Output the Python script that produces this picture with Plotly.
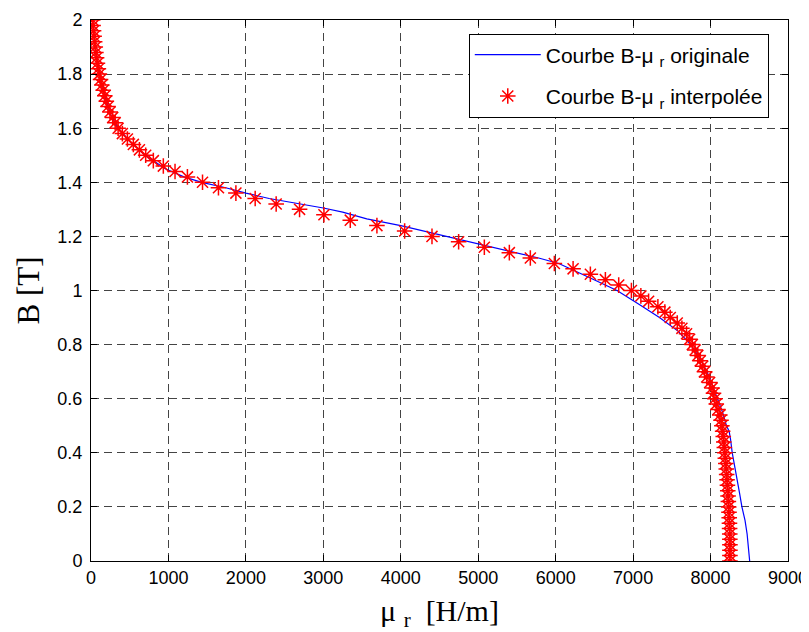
import plotly.graph_objects as go

# Original B-mu_r curve
B_orig = [0.0, 0.05, 0.1, 0.15, 0.2, 0.25, 0.3, 0.35, 0.4, 0.45, 0.48, 0.5, 0.55, 0.6, 0.65,
          0.7, 0.75, 0.8, 0.85, 0.9, 0.95, 1.0, 1.05, 1.1, 1.12, 1.15, 1.17, 1.2, 1.24, 1.265,
          1.29, 1.305, 1.32, 1.34, 1.36, 1.38, 1.4, 1.42, 1.45, 1.5, 1.55, 1.6, 1.65, 1.7, 1.75,
          1.8, 1.85, 1.9, 1.95, 2.0]
mu_orig = [8505, 8490, 8472, 8445, 8405, 8375, 8342, 8310, 8280, 8258, 8240, 8205, 8155, 8090, 8025,
           7955, 7860, 7745, 7580, 7340, 7070, 6792, 6420, 6040, 5780, 5330, 5040, 4600, 4000, 3561,
           3250, 3000, 2700, 2300, 2000, 1740, 1430, 1200, 960, 700, 505, 352, 255, 195, 145,
           108, 78, 55, 35, 22]

# Interpolated B-mu_r curve
B_interp = [0.00, 0.02, 0.04, 0.06, 0.08, 0.10, 0.12, 0.14, 0.16, 0.18,
            0.20, 0.22, 0.24, 0.26, 0.28, 0.30, 0.32, 0.34, 0.36, 0.38,
            0.40, 0.42, 0.44, 0.46, 0.48, 0.50, 0.52, 0.54, 0.56, 0.58,
            0.60, 0.62, 0.64, 0.66, 0.68, 0.70, 0.72, 0.74, 0.76, 0.78,
            0.80, 0.82, 0.84, 0.86, 0.88, 0.90, 0.92, 0.94, 0.96, 0.98,
            1.00, 1.02, 1.04, 1.06, 1.08, 1.10, 1.12, 1.14, 1.16, 1.18,
            1.20, 1.22, 1.24, 1.26, 1.28, 1.30, 1.32, 1.34, 1.36, 1.38,
            1.40, 1.42, 1.44, 1.46, 1.48, 1.50, 1.52, 1.54, 1.56, 1.58,
            1.60, 1.62, 1.64, 1.66, 1.68, 1.70, 1.72, 1.74, 1.76, 1.78,
            1.80, 1.82, 1.84, 1.86, 1.88, 1.90, 1.92, 1.94, 1.96, 1.98, 2.00]
mu_interp = [8250, 8250, 8250, 8250, 8249, 8248, 8246, 8244, 8241, 8238,
             8234, 8230, 8226, 8222, 8218, 8213, 8208, 8203, 8197, 8191,
             8185, 8178, 8171, 8164, 8156, 8146, 8135, 8120, 8095, 8074,
             8056, 8038, 8020, 7988, 7950, 7922, 7898, 7868, 7835, 7800,
             7765, 7730, 7690, 7630, 7570, 7480, 7410, 7320, 7200, 7100,
             6978, 6814, 6642, 6448, 6225, 5983, 5673, 5402, 5079, 4747,
             4403, 4050, 3692, 3348, 3008, 2693, 2391, 2120, 1871, 1646,
             1440, 1245, 1085, 934, 805, 706, 625, 547, 470, 405,
             350, 312, 280, 245, 220, 198, 178, 158, 140, 123,
             108, 95, 83, 72, 63, 55, 47, 40, 33, 27, 22]

x_ticks = [0, 1000, 2000, 3000, 4000, 5000, 6000, 7000, 8000, 9000]
y_ticks = [0, 0.2, 0.4, 0.6, 0.8, 1, 1.2, 1.4, 1.6, 1.8, 2]

NB = "\u00a0"

fig = go.Figure()
fig.add_trace(go.Scatter(
    x=mu_orig, y=B_orig, mode="lines",
    line=dict(color="#0000ff", width=1.2),
    name="Courbe B-μ <sub>r</sub> originale",
    legendgroup="a",
))
fig.add_trace(go.Scatter(
    x=mu_interp, y=B_interp, mode="markers",
    marker=dict(symbol="asterisk-open", size=13, color="#ff0000",
                line=dict(color="#ff0000", width=1.5)),
    name="Courbe B-μ <sub>r</sub> interpolée",
    legendgroup="b",
))

axis_common = dict(
    showline=True, linecolor="black", linewidth=1, mirror="ticks",
    ticks="inside", ticklen=6, tickcolor="black",
    showgrid=True, gridcolor="#444444", gridwidth=1, griddash="8px,5px",
    zeroline=False, automargin=False,
    tickfont=dict(family="Liberation Sans, Arial, sans-serif", size=18, color="black"),
)

fig.update_xaxes(
    range=[0, 9000], tickvals=x_ticks, ticktext=[str(v) for v in x_ticks],
    title=dict(text="μ" + NB + "<sub>r</sub>" + NB + NB + "[H/m]", standoff=35,
               font=dict(family="Liberation Serif, Times New Roman, serif", size=30, color="black")),
    **axis_common,
)
fig.update_yaxes(
    range=[0, 2], tickvals=y_ticks, ticktext=[("%g" % v) for v in y_ticks],
    ticklabelstandoff=4,
    title=dict(text="B [T]", standoff=8,
               font=dict(family="Liberation Serif, Times New Roman, serif", size=31, color="black")),
    **axis_common,
)

# page body has an 8px margin: figure is sized/offset so the plot box lands where the reference has it
fig.update_layout(
    width=801, height=624,
    margin=dict(l=83, r=21, t=12, b=71, autoexpand=False),
    paper_bgcolor="white", plot_bgcolor="white",
    showlegend=True,
    legend=dict(
        x=0.542, y=0.975, xanchor="left", yanchor="top",
        bgcolor="white", bordercolor="black", borderwidth=1,
        font=dict(family="Liberation Sans, Arial, sans-serif", size=21, color="black"),
        itemwidth=66, traceorder="grouped", tracegroupgap=11,
    ),
)

fig.write_html("out.html")
